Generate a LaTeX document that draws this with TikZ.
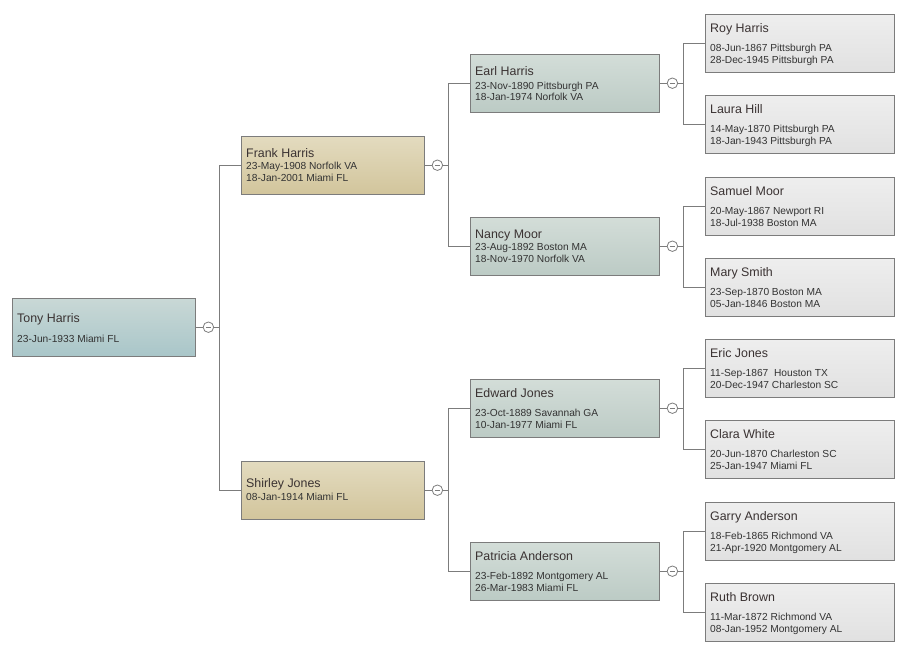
\documentclass[tikz,border=0pt]{standalone}
\usepackage{fontspec}
\setmainfont{Liberation Sans}
\definecolor{linecol}{HTML}{7C7C7C}
\definecolor{namecol}{HTML}{3A3232}
\definecolor{datecol}{HTML}{333333}
\definecolor{rootT}{HTML}{C9D8D6}
\definecolor{rootB}{HTML}{A9C6C9}
\definecolor{tanT}{HTML}{E3DBBF}
\definecolor{tanB}{HTML}{D2C59C}
\definecolor{grnT}{HTML}{D3DDD8}
\definecolor{grnB}{HTML}{BCCBC5}
\definecolor{gryT}{HTML}{EEEEEE}
\definecolor{gryB}{HTML}{E1E1E1}
\newcommand\pname[3]{\node[nm] (#1n) at ([shift={(5,#2)}]#1.north west) {#3};}
\newcommand\pdate[4]{\node[dt] (#1d#2) at ([shift={(5,#3)}]#1.north west) {#4};}
\begin{document}
\begin{tikzpicture}[x=1pt,y=-1pt,
  box/.style={draw=linecol, line width=0.9pt, rectangle, inner sep=0pt, anchor=north west, minimum height=57.5pt},
  rootbox/.style={box, top color=rootT, bottom color=rootB, minimum width=183pt},
  tanbox/.style={box, top color=tanT, bottom color=tanB, minimum width=183pt},
  grnbox/.style={box, top color=grnT, bottom color=grnB, minimum width=189pt},
  grybox/.style={box, top color=gryT, bottom color=gryB, minimum width=189pt},
  nm/.style={font=\fontsize{12.4}{14}\selectfont, text=namecol, inner sep=0pt, anchor=base west},
  dt/.style={font=\fontsize{10.2}{12}\selectfont, text=datecol, inner sep=0pt, anchor=base west},
  tog/.style={circle, draw=linecol, line width=0.8pt, fill=white, inner sep=0pt, minimum size=10.5pt,
    path picture={\draw[linecol, line width=0.9pt] ([xshift=-2.6pt]path picture bounding box.center) -- ([xshift=2.6pt]path picture bounding box.center);}},
  conn/.style={draw=linecol, line width=0.9pt}
]
\useasboundingbox (0,0) rectangle (903,654);

% generation 0
\node[rootbox] (tony) at (12,298) {};
% generation 1
\node[tanbox] (frank) at (241,136) {};
\node[tanbox] (shirley) at (241,461) {};
% generation 2
\node[grnbox] (earl) at (470,54) {};
\node[grnbox] (nancy) at (470,217) {};
\node[grnbox] (edward) at (470,379) {};
\node[grnbox] (patricia) at (470,542) {};
% generation 3
\node[grybox] (roy) at (705,14) {};
\node[grybox] (laura) at (705,95) {};
\node[grybox] (samuel) at (705,177) {};
\node[grybox] (mary) at (705,258) {};
\node[grybox] (eric) at (705,339) {};
\node[grybox] (clara) at (705,420) {};
\node[grybox] (garry) at (705,502) {};
\node[grybox] (ruth) at (705,583) {};

% texts
\pname{tony}{24.5}{Tony Harris}
\pdate{tony}{1}{44.7}{23-Jun-1933 Miami FL}

\pname{frank}{21.5}{Frank Harris}
\pdate{frank}{1}{33.7}{23-May-1908 Norfolk VA}
\pdate{frank}{2}{45.7}{18-Jan-2001 Miami FL}

\pname{shirley}{26.5}{Shirley Jones}
\pdate{shirley}{1}{39.7}{08-Jan-1914 Miami FL}

\pname{earl}{21.5}{Earl Harris}
\pdate{earl}{1}{35.7}{23-Nov-1890 Pittsburgh PA}
\pdate{earl}{2}{46.7}{18-Jan-1974 Norfolk VA}

\pname{nancy}{21.5}{Nancy Moor}
\pdate{nancy}{1}{33.7}{23-Aug-1892 Boston MA}
\pdate{nancy}{2}{45.7}{18-Nov-1970 Norfolk VA}

\pname{edward}{18.5}{Edward Jones}
\pdate{edward}{1}{37.7}{23-Oct-1889 Savannah GA}
\pdate{edward}{2}{49.7}{10-Jan-1977 Miami FL}

\pname{patricia}{18.2}{Patricia Anderson}
\pdate{patricia}{1}{37.7}{23-Feb-1892 Montgomery AL}
\pdate{patricia}{2}{49.7}{26-Mar-1983 Miami FL}

\pname{roy}{18}{Roy Harris}
\pdate{roy}{1}{37.7}{08-Jun-1867 Pittsburgh PA}
\pdate{roy}{2}{49.7}{28-Dec-1945 Pittsburgh PA}

\pname{laura}{18}{Laura Hill}
\pdate{laura}{1}{37.7}{14-May-1870 Pittsburgh PA}
\pdate{laura}{2}{49.7}{18-Jan-1943 Pittsburgh PA}

\pname{samuel}{18}{Samuel Moor}
\pdate{samuel}{1}{37.7}{20-May-1867 Newport RI}
\pdate{samuel}{2}{49.7}{18-Jul-1938 Boston MA}

\pname{mary}{18}{Mary Smith}
\pdate{mary}{1}{37.7}{23-Sep-1870 Boston MA}
\pdate{mary}{2}{49.7}{05-Jan-1846 Boston MA}

\pname{eric}{18}{Eric Jones}
\pdate{eric}{1}{37.7}{11-Sep-1867\ \ Houston TX}
\pdate{eric}{2}{49.7}{20-Dec-1947 Charleston SC}

\pname{clara}{18}{Clara White}
\pdate{clara}{1}{37.7}{20-Jun-1870 Charleston SC}
\pdate{clara}{2}{49.7}{25-Jan-1947 Miami FL}

\pname{garry}{18}{Garry Anderson}
\pdate{garry}{1}{37.7}{18-Feb-1865 Richmond VA}
\pdate{garry}{2}{49.7}{21-Apr-1920 Montgomery AL}

\pname{ruth}{18}{Ruth Brown}
\pdate{ruth}{1}{37.7}{11-Mar-1872 Richmond VA}
\pdate{ruth}{2}{49.7}{08-Jan-1952 Montgomery AL}

% toggles
\foreach \p in {tony,frank,shirley,earl,nancy,edward,patricia}{
  \node[tog] (\p c) at ([xshift=12.5pt]\p.east) {};
}

% connectors
\foreach \p/\a/\b in {tony/frank/shirley, frank/earl/nancy, shirley/edward/patricia,
  earl/roy/laura, nancy/samuel/mary, edward/eric/clara, patricia/garry/ruth}{
  \draw[conn] (\p.east) -- (\p c.west);
  \draw[conn] (\p c.east) -- ++(5.5,0) |- (\a.west);
  \draw[conn] (\p c.east) -- ++(5.5,0) |- (\b.west);
}
\end{tikzpicture}
\end{document}
